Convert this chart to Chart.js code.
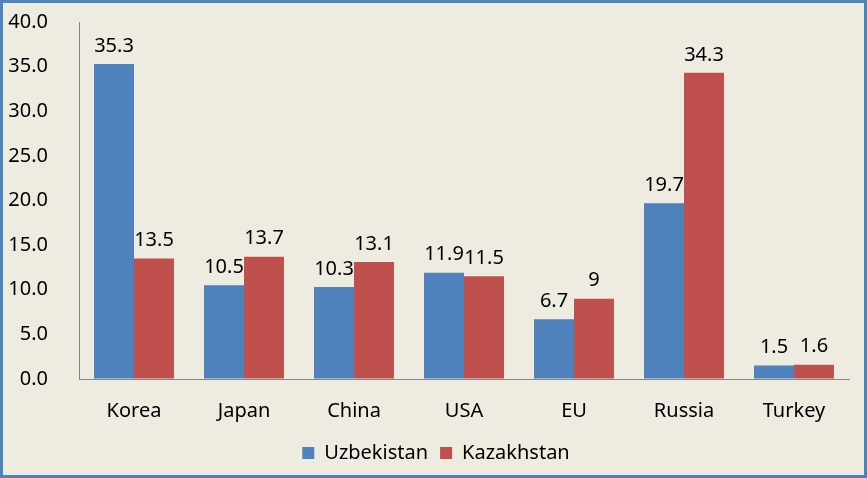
<!DOCTYPE html>
<html>
<head>
<meta charset="utf-8">
<script src="https://cdn.jsdelivr.net/npm/chart.js@4.4.1/dist/chart.umd.min.js"></script>
<style>
  html, body { margin: 0; padding: 0; background: #EEECE1; }
  #wrap { width: 867px; height: 478px; box-sizing: border-box; border: 3px solid #4F81BD; background: #EEECE1; }
  canvas { display: block; }
</style>
</head>
<body>
<div id="wrap"><canvas id="c" width="861" height="472"></canvas></div>
<script>
const categories = ['Korea', 'Japan', 'China', 'USA', 'EU', 'Russia', 'Turkey'];
const uzbekistan = [35.3, 10.5, 10.3, 11.9, 6.7, 19.7, 1.5];
const kazakhstan = [13.5, 13.7, 13.1, 11.5, 9, 34.3, 1.6];
const seriesNames = ['Uzbekistan', 'Kazakhstan'];
const yMin = 0, yMax = 40, yStep = 5;

const FONT = "'Noto Sans', sans-serif";
const FS = 20;

const valueLabels = {
  id: 'valueLabels',
  afterDatasetsDraw(chart) {
    const ctx = chart.ctx;
    ctx.save();
    ctx.font = FS + 'px ' + FONT;
    ctx.fillStyle = '#000';
    ctx.textAlign = 'center';
    ctx.textBaseline = 'bottom';
    chart.data.datasets.forEach((ds, i) => {
      const meta = chart.getDatasetMeta(i);
      meta.data.forEach((el, j) => {
        ctx.fillText(String(ds.data[j]), el.x, el.y - 8);
      });
    });
    ctx.restore();
  }
};

const legendShift = {
  id: 'legendShift',
  afterLayout(chart) {
    if (chart.legend) { chart.legend.left += 10; chart.legend.right += 10; }
  }
};

new Chart(document.getElementById('c'), {
  type: 'bar',
  data: {
    labels: categories,
    datasets: [
      { label: seriesNames[0], data: uzbekistan, backgroundColor: '#4F81BD' },
      { label: seriesNames[1], data: kazakhstan, backgroundColor: '#C0504D' }
    ]
  },
  options: {
    responsive: false,
    animation: false,
    devicePixelRatio: 1,
    layout: { padding: { left: 0, right: 15, top: 19, bottom: 2 } },
    datasets: { bar: { categoryPercentage: 0.727, barPercentage: 1.0 } },
    plugins: {
      legend: {
        position: 'bottom',
        labels: { font: { family: FONT, size: FS }, color: '#000', boxWidth: 12, boxHeight: 12, padding: 12 }
      },
      tooltip: { enabled: false }
    },
    scales: {
      x: {
        grid: { display: true, drawOnChartArea: false, drawTicks: false },
        border: { display: true, color: '#868686', width: 1 },
        ticks: { font: { family: FONT, size: FS }, color: '#000', padding: 20, maxRotation: 0 },
        afterFit(s) { s.height = 52; }
      },
      y: {
        min: yMin, max: yMax,
        grid: { display: true, drawOnChartArea: false, drawTicks: true, tickLength: 31, tickColor: 'rgba(0,0,0,0)' },
        border: { display: true, color: '#868686', width: 1 },
        ticks: { stepSize: yStep, font: { family: FONT, size: FS }, color: '#000', padding: 0,
                 callback: v => Number(v).toFixed(1) },
        afterFit(s) { s.width = 76; }
      }
    }
  },
  plugins: [valueLabels, legendShift]
});
</script>
</body>
</html>
